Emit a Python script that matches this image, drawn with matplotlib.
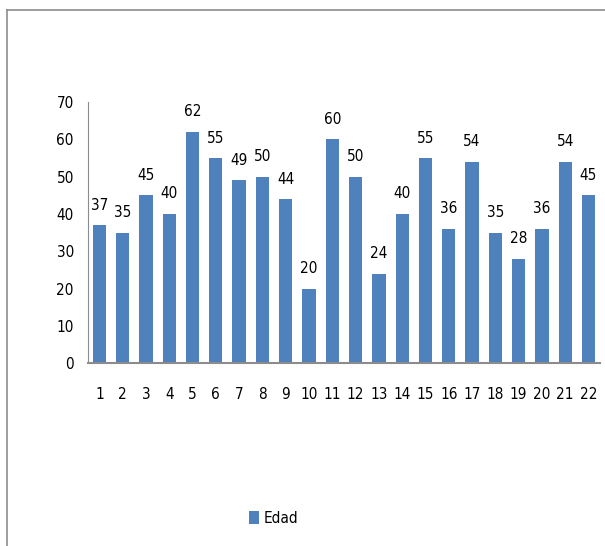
import matplotlib
matplotlib.use("Agg")
import matplotlib.pyplot as plt
from matplotlib.lines import Line2D

plt.rcParams['font.family'] = ['DejaVu Sans']
plt.rcParams['font.stretch'] = 'condensed'

# datos
participantes = list(range(1, 23))
edades = [37, 35, 45, 40, 62, 55, 49, 50, 44, 20, 60, 50, 24, 40, 55, 36, 54, 35, 28, 36, 54, 45]
serie = "Edad"

color_barra = "#4F81BD"
gris = "#8C8C8C"

fig = plt.figure(figsize=(6.05, 5.46), dpi=100)
ax = fig.add_axes([0.145, 0.335, 0.847, 0.478])

barras = ax.bar(participantes, edades, width=0.57, color=color_barra, label=serie)

for x, v in zip(participantes, edades):
    ax.annotate(str(v), (x, v), xytext=(0, 9), textcoords="offset points",
                ha="center", va="bottom", fontsize=11)

ax.set_xlim(0.5, 22.5)
ax.set_ylim(0, 70)
ax.set_yticks(range(0, 71, 10))
ax.set_xticks(participantes)
ax.tick_params(axis="both", length=0, labelsize=11)
ax.tick_params(axis="x", pad=17)
ax.tick_params(axis="y", pad=10)

for lado in ("top", "right"):
    ax.spines[lado].set_visible(False)
ax.spines["left"].set_color(gris)
ax.spines["bottom"].set_color(gris)
ax.spines["bottom"].set_linewidth(1.5)

# marco del gráfico (solo borde superior e izquierdo)
fig.add_artist(Line2D([7 / 605, 1.0], [1 - 10 / 546, 1 - 10 / 546],
                      transform=fig.transFigure, color=gris, lw=1.2))
fig.add_artist(Line2D([7 / 605, 7 / 605], [1 - 10 / 546, 0.0],
                      transform=fig.transFigure, color=gris, lw=1.2))

fig.legend(handles=[barras], loc="center", bbox_to_anchor=(0.452, 0.051),
           frameon=False, fontsize=11, handlelength=0.7, handleheight=0.9,
           handletextpad=0.3)

fig.savefig("out.png", dpi=100)
